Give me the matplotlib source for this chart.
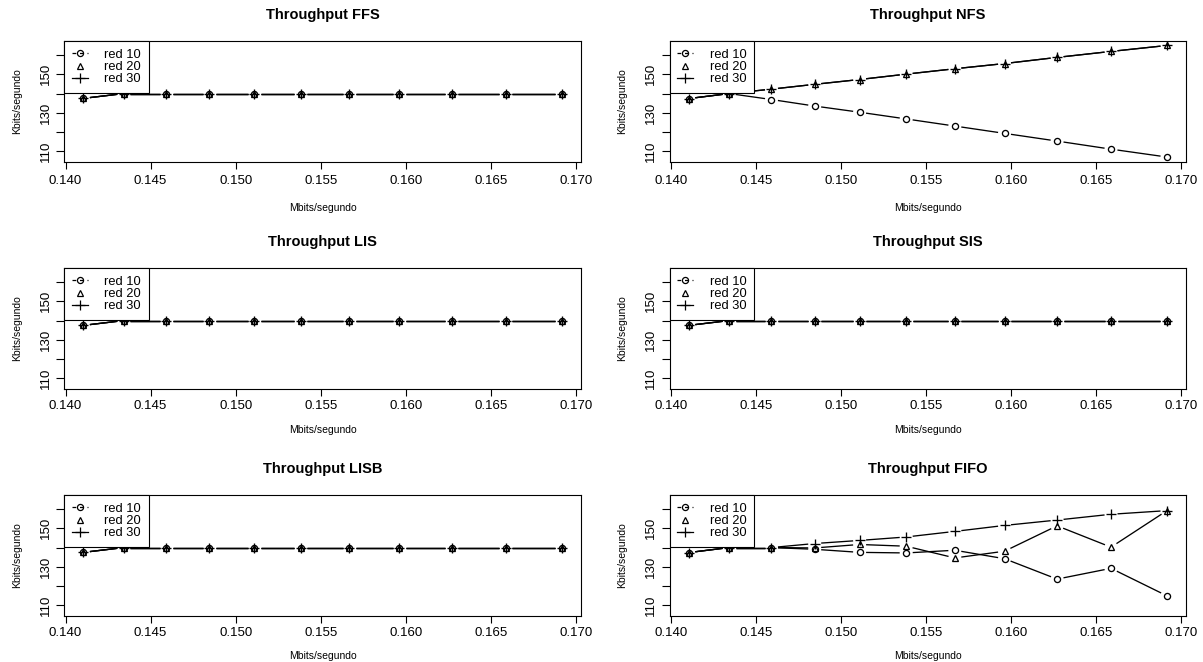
import matplotlib
matplotlib.use('Agg')
import matplotlib.pyplot as plt
from matplotlib.lines import Line2D
import numpy as np

plt.rcParams['font.family'] = ['Liberation Sans', 'DejaVu Sans']

# data
mbits = [0.14105, 0.14342, 0.14591, 0.14845, 0.15109, 0.15383,
         0.15669, 0.15961, 0.16270, 0.16587, 0.16916]
series_names = ['red 10', 'red 20', 'red 30']

ffs_r10 = [137.5, 140.0, 140.0, 140.0, 140.0, 140.0, 140.0, 140.0, 140.0, 140.0, 140.0]
ffs_r20 = [137.5, 140.0, 140.0, 140.0, 140.0, 140.0, 140.0, 140.0, 140.0, 140.0, 140.0]
ffs_r30 = [137.5, 140.0, 140.0, 140.0, 140.0, 140.0, 140.0, 140.0, 140.0, 140.0, 140.0]

nfs_r10 = [137.4, 140.0, 136.9, 133.5, 130.3, 126.8, 123.1, 119.3, 115.3, 111.1, 107.0]
nfs_r20 = [137.4, 140.0, 142.3, 144.8, 147.3, 150.1, 152.9, 155.6, 158.8, 161.9, 165.0]
nfs_r30 = [137.4, 140.0, 142.3, 144.8, 147.3, 150.1, 152.9, 155.6, 158.8, 161.9, 165.0]

lis_r10 = [137.5, 140.0, 140.0, 140.0, 140.0, 140.0, 140.0, 140.0, 140.0, 140.0, 140.0]
lis_r20 = [137.5, 140.0, 140.0, 140.0, 140.0, 140.0, 140.0, 140.0, 140.0, 140.0, 140.0]
lis_r30 = [137.5, 140.0, 140.0, 140.0, 140.0, 140.0, 140.0, 140.0, 140.0, 140.0, 140.0]

sis_r10 = [137.5, 140.0, 140.0, 140.0, 140.0, 140.0, 140.0, 140.0, 140.0, 140.0, 140.0]
sis_r20 = [137.5, 140.0, 140.0, 140.0, 140.0, 140.0, 140.0, 140.0, 140.0, 140.0, 140.0]
sis_r30 = [137.5, 140.0, 140.0, 140.0, 140.0, 140.0, 140.0, 140.0, 140.0, 140.0, 140.0]

lisb_r10 = [137.5, 140.0, 140.0, 140.0, 140.0, 140.0, 140.0, 140.0, 140.0, 140.0, 140.0]
lisb_r20 = [137.5, 140.0, 140.0, 140.0, 140.0, 140.0, 140.0, 140.0, 140.0, 140.0, 140.0]
lisb_r30 = [137.5, 140.0, 140.0, 140.0, 140.0, 140.0, 140.0, 140.0, 140.0, 140.0, 140.0]

fifo_r10 = [137.4, 140.0, 140.0, 139.1, 137.5, 137.2, 138.6, 134.2, 123.6, 129.2, 114.9]
fifo_r20 = [137.4, 140.0, 140.0, 139.8, 141.6, 140.7, 134.6, 138.1, 151.3, 140.2, 159.2]
fifo_r30 = [137.4, 140.0, 140.0, 142.1, 143.7, 145.5, 148.4, 151.5, 154.3, 157.3, 159.2]

panels = [
    ('Throughput FFS', [ffs_r10, ffs_r20, ffs_r30]),
    ('Throughput NFS', [nfs_r10, nfs_r20, nfs_r30]),
    ('Throughput LIS', [lis_r10, lis_r20, lis_r30]),
    ('Throughput SIS', [sis_r10, sis_r20, sis_r30]),
    ('Throughput LISB', [lisb_r10, lisb_r20, lisb_r30]),
    ('Throughput FIFO', [fifo_r10, fifo_r20, fifo_r30]),
]

W, H = 1203, 662
fig = plt.figure(figsize=(W / 100, H / 100), dpi=100)

# R style limits: data range plus 4%
all_y = np.concatenate([np.array(s) for _, ss in panels for s in ss])
xr = max(mbits) - min(mbits)
yr = all_y.max() - all_y.min()
xlim = (min(mbits) - 0.04 * xr, max(mbits) + 0.04 * xr)
ylim = (all_y.min() - 0.04 * yr, all_y.max() + 0.04 * yr)

markers = [dict(marker='o', ms=4.4), dict(marker='^', ms=5.0), dict(marker='+', ms=6.8)]
gap = 6.5  # px left open around each point, like R type="b"

col_left = [64.3, 669.7]
row_top = [41, 268, 495]
ax_w, ax_h = 516.4, 120.5
# per row: tick label pad, xlabel pad, title pad
row_pads = [(5, 11, 16), (3.5, 9, 16), (3, 9, 15.5)]


def draw_b(ax, x, y):
    # line segments shortened at both ends so they stop short of the symbols
    pts = ax.transData.transform(np.column_stack([x, y]))
    inv = ax.transData.inverted()
    for p0, p1 in zip(pts[:-1], pts[1:]):
        d = p1 - p0
        L = np.hypot(d[0], d[1])
        if L <= 2 * gap:
            continue
        u = d / L
        a = inv.transform(p0 + u * gap)
        b = inv.transform(p1 - u * gap)
        ax.plot([a[0], b[0]], [a[1], b[1]], color='black', lw=0.95,
                solid_capstyle='butt', zorder=2)


for i, (title, series) in enumerate(panels):
    r, c = divmod(i, 2)
    tpad, lpad, ttl_pad = row_pads[r]
    ax = fig.add_axes([col_left[c] / W, 1 - (row_top[r] + ax_h) / H, ax_w / W, ax_h / H])
    ax.set_xlim(*xlim)
    ax.set_ylim(*ylim)

    for ys, m in zip(series, markers):
        draw_b(ax, mbits, ys)
        ax.plot(mbits, ys, ls='none', color='black', mfc='none', mew=0.95, zorder=3, **m)

    ax.set_xticks([0.140, 0.145, 0.150, 0.155, 0.160, 0.165, 0.170])
    ax.set_xticklabels(['0.140', '0.145', '0.150', '0.155', '0.160', '0.165', '0.170'])
    ax.set_yticks([110, 120, 130, 140, 150, 160])
    ax.set_yticklabels(['110', '', '130', '', '150', ''], rotation=90, va='center')
    ax.tick_params(axis='x', length=5, width=0.8, pad=tpad, labelsize=9.5)
    ax.tick_params(axis='y', length=6, width=0.8, pad=3, labelsize=9.5)
    for sp in ax.spines.values():
        sp.set_linewidth(0.8)
        sp.set_color('black')

    ax.set_title(title, fontsize=10.5, fontweight='bold', pad=ttl_pad)
    ax.set_xlabel('Mbits/segundo', fontsize=7.5, labelpad=lpad)
    ax.set_ylabel('Kbits/segundo', fontsize=7.5, labelpad=13)

    handles = [
        Line2D([], [], color='black', lw=0.9, ls=(0, (3, 3)), marker='o', ms=4.4,
               mfc='none', mew=0.9),
        Line2D([], [], color='black', ls='none', marker='^', ms=5.0, mfc='none', mew=0.9),
        Line2D([], [], color='black', lw=0.9, marker='+', ms=6.8, mew=0.9),
    ]
    leg = ax.legend(handles, series_names, loc='upper left', bbox_to_anchor=(0, 1),
                    borderaxespad=0, fancybox=False, framealpha=1, edgecolor='black',
                    fontsize=9.3, handlelength=1.2, handletextpad=1.3, labelspacing=0.02,
                    borderpad=0.6)
    leg.get_frame().set_linewidth(0.8)
    leg.set_zorder(5)

fig.savefig('out.png', dpi=100)
